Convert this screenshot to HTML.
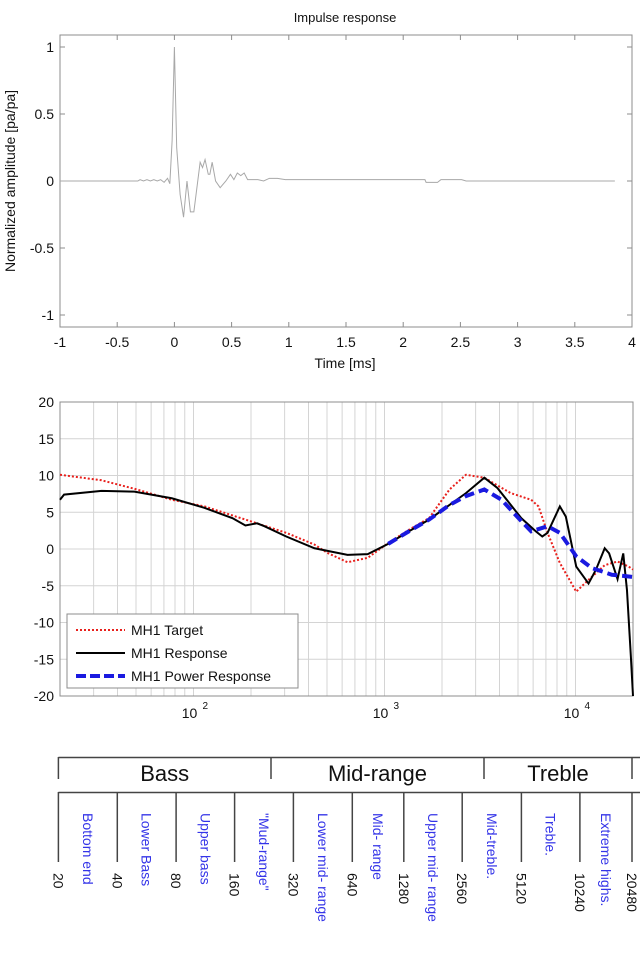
<!DOCTYPE html>
<html><head><meta charset="utf-8"><style>
body{margin:0;background:#fff;width:640px;height:960px;overflow:hidden;font-family:"Liberation Sans",sans-serif}
svg text{font-family:"Liberation Sans",sans-serif}
</style></head><body>
<svg id="root" width="640" height="960" viewBox="0 0 640 960">
<g id="topchart"></g>
<g id="botchart"></g>
<g id="bandchart"></g>
</svg>
<script>
const NS='http://www.w3.org/2000/svg';
function mk(p,t,a,txt){const e=document.createElementNS(NS,t);for(const k in a)e.setAttribute(k,a[k]);if(txt!==undefined)e.textContent=txt;p.appendChild(e);return e;}

// ---- impulse data ----
const impT=[-1,-0.32,-0.3,-0.27,-0.24,-0.21,-0.18,-0.15,-0.12,-0.09,-0.06,-0.04,-0.02,0,0.02,0.05,0.08,0.11,0.14,0.17,0.225,0.246,0.268,0.296,0.31,0.33,0.36,0.4,0.45,0.49,0.52,0.55,0.58,0.61,0.64,0.73,0.78,0.83,0.9,0.97,1.19,2.19,2.2,2.3,2.33,2.51,2.55,3.85];
const impV=[0,0,0.01,0,0.01,0,0.01,0,0.01,-0.01,0.02,-0.02,0.3,1.0,0.25,-0.1,-0.27,0.0,-0.23,-0.23,0.14,0.1,0.16,0.05,0.05,0.14,0.0,-0.05,0.0,0.05,0.01,0.06,0.04,0.06,0.01,0.01,0.0,0.02,0.02,0.01,0.01,0.01,-0.01,-0.01,0.01,0.01,0,0];
const impXTicks=[-1,-0.5,0,0.5,1,1.5,2,2.5,3,3.5,4];
const impYTicks=[1,0.5,0,-0.5,-1];

// ---- frequency data ----
const tgtF=[20,33,49,77,114,187,306,430,500,640,817,1045,1340,1711,2190,2670,3330,4580,5860,6400,7140,8280,10090,11700,14220,16600,19000,20000];
const tgtV=[10.1,9.35,8.2,6.7,5.8,4.0,2.2,0.6,-0.5,-1.8,-1.2,0.8,2.6,4.2,8.1,10.1,9.7,7.6,6.7,5.8,2.2,-1.9,-5.8,-4.2,-2.2,-1.7,-2.4,-2.8];
const rspF=[20,21,33,49,77,114,160,187,215,235,306,430,640,817,1045,1340,1711,2190,2670,3330,3900,5200,6200,6700,7140,8280,8900,10090,11700,12800,14220,15000,16600,17780,18600,19500,20000];
const rspV=[6.7,7.4,7.9,7.8,6.9,5.6,4.2,3.2,3.5,3.1,1.7,0.1,-0.8,-0.7,0.7,2.4,4.0,6.0,7.6,9.7,8.3,4.2,2.4,1.7,2.2,5.8,4.4,-2.4,-4.7,-2.8,0.1,-0.6,-4.1,-0.6,-5.6,-14.7,-20];
const pwrF=[1045,1340,1711,2190,2670,3330,4100,5200,5860,7140,8280,10090,12200,15500,20000];
const pwrV=[0.7,2.4,4.0,6.0,7.2,8.1,6.7,3.8,2.4,3.1,2.2,-1.0,-2.6,-3.5,-3.8];
const frYTicks=[20,15,10,5,0,-5,-10,-15,-20];
const frXDecades=[2,3,4];

// ---- band data ----
const bandFreqs=['20','40','80','160','320','640','1280','2560','5120','10240','20480'];
const bandNames=['Bottom end','Lower Bass','Upper bass','"Mud-range"','Lower mid- range','Mid- range','Upper mid- range','Mid-treble.','Treble.','Extreme highs.'];
const groupNames=['Bass','Mid-range','Treble'];

(function(){
// ===== top chart =====
const topG=document.getElementById('topchart');
const tx=t=>60+(t+1)*(572/5), ty=v=>181-v*134;
let e;
e=mk(topG,'rect',{x:60,y:35,width:572,height:292,fill:'#fff',stroke:'#8c8c8c','stroke-width':1});


e=mk(topG,'text',{x:345,y:22,'font-size':13,'text-anchor':'middle',fill:'#111'},'Impulse response');


impXTicks.forEach(t=>{const x=tx(t);
 mk(topG,'line',{x1:x,x2:x,y1:327,y2:322,stroke:'#8c8c8c'});mk(topG,'line',{x1:x,x2:x,y1:35,y2:40,stroke:'#8c8c8c'});
 const l=mk(topG,'text',{x:x,y:347,'font-size':14,'text-anchor':'middle',fill:'#111'},String(t));
 
 });
impYTicks.forEach(v=>{const y=ty(v);
 mk(topG,'line',{x1:60,x2:65,y1:y,y2:y,stroke:'#8c8c8c'});mk(topG,'line',{x1:632,x2:627,y1:y,y2:y,stroke:'#8c8c8c'});
 const l=mk(topG,'text',{x:54,y:y+5,'font-size':14,'text-anchor':'end',fill:'#111'},String(v));
 
 });
e=mk(topG,'text',{x:345,y:368,'font-size':14,'text-anchor':'middle',fill:'#111'},'Time [ms]');


e=mk(topG,'text',{x:0,y:0,'font-size':14,'text-anchor':'middle',fill:'#111',transform:'translate(15,181) rotate(-90)'},'Normalized amplitude [pa/pa]');


e=mk(topG,'polyline',{points:impT.map((t,i)=>tx(t)+','+ty(impV[i])).join(' '),fill:'none',stroke:'#a8a8a8','stroke-width':1});



// ===== bottom chart =====
const botG=document.getElementById('botchart');
const L0=Math.log10(20),L1=Math.log10(20000);
const fx=f=>60+(Math.log10(f)-L0)/(L1-L0)*573, fy=v=>549-v*(294/40);
mk(botG,'rect',{x:60,y:402,width:573,height:294,fill:'#fff'});
const grid=mk(botG,'g',{stroke:'#d4d4d4','stroke-width':1});


for(let d=1;d<=4;d++)for(let m=1;m<10;m++){const f=m*Math.pow(10,d);if(f>20&&f<20000){const x=fx(f);mk(grid,'line',{x1:x,x2:x,y1:402,y2:696});}}
frYTicks.forEach(v=>{const y=fy(v);mk(grid,'line',{x1:60,x2:633,y1:y,y2:y});
 const l=mk(botG,'text',{x:54,y:y+5,'font-size':14,'text-anchor':'end',fill:'#111'},String(v));
 
 });
frXDecades.forEach(d=>{const x=fx(Math.pow(10,d));
 const l=mk(botG,'text',{x:x-4,y:718,'font-size':14,'text-anchor':'middle',fill:'#111'},'10');
 
 
 mk(botG,'text',{x:x+9,y:709,'font-size':10,fill:'#111'},String(d));});
mk(botG,'rect',{x:60,y:402,width:573,height:294,fill:'none',stroke:'#8c8c8c'});
const pts=(F,V)=>F.map((f,i)=>fx(f)+','+fy(V[i])).join(' ');
e=mk(botG,'polyline',{points:pts(tgtF,tgtV),fill:'none',stroke:'#e8201c','stroke-width':2,'stroke-dasharray':'2,2'});


e=mk(botG,'polyline',{points:pts(rspF,rspV),fill:'none',stroke:'#000','stroke-width':2});


e=mk(botG,'polyline',{points:pts(pwrF,pwrV),fill:'none',stroke:'#1a1ae0','stroke-width':4,'stroke-dasharray':'10,5'});


const lg=mk(botG,'g',{});


mk(lg,'rect',{x:67,y:614,width:231,height:74,fill:'#fff',stroke:'#8c8c8c'});
[['MH1 Target','#e8201c',2,'2,2'],['MH1 Response','#000',2,''],['MH1 Power Response','#1a1ae0',4,'10,4']].forEach((s,i)=>{const y=630+i*23;
 const g=mk(lg,'g',{});
 
 
 const a={x1:76,x2:125,y1:y,y2:y,stroke:s[1],'stroke-width':s[2]};if(s[3])a['stroke-dasharray']=s[3];mk(g,'line',a);
 mk(g,'text',{x:131,y:y+5,'font-size':14,fill:'#111'},s[0]);});

// ===== band diagram =====
const bandG=document.getElementById('bandchart');
const bx=[58.4,117.3,176.1,234.6,293.4,352.3,403.8,462.2,521.4,579.9,632];
const gx=[58.4,271,484,632];
mk(bandG,'line',{x1:58.4,x2:640,y1:757.5,y2:757.5,stroke:'#444','stroke-width':1.5});
gx.forEach(x=>mk(bandG,'line',{x1:x,x2:x,y1:757,y2:779,stroke:'#444','stroke-width':1.5}));
groupNames.forEach((n,i)=>{const l=mk(bandG,'text',{x:(gx[i]+gx[i+1])/2,y:781,'font-size':22,'text-anchor':'middle',fill:'#111'},n);
 
 });
mk(bandG,'line',{x1:58.4,x2:640,y1:792.5,y2:792.5,stroke:'#444','stroke-width':1.5});
bx.forEach((x,i)=>{mk(bandG,'line',{x1:x,x2:x,y1:792,y2:862,stroke:'#444','stroke-width':1.5});
 const l=mk(bandG,'text',{x:0,y:0,'font-size':14,fill:'#111',transform:'translate('+(x-5)+',873) rotate(90)'},bandFreqs[i]);
 
 });
bandNames.forEach((n,i)=>{const x=(bx[i]+bx[i+1])/2;
 const l=mk(bandG,'text',{x:0,y:0,'font-size':14,fill:'#3434e8',transform:'translate('+(x-5)+',813) rotate(90)'},n);
 
 });
})();
</script>
</body></html>
